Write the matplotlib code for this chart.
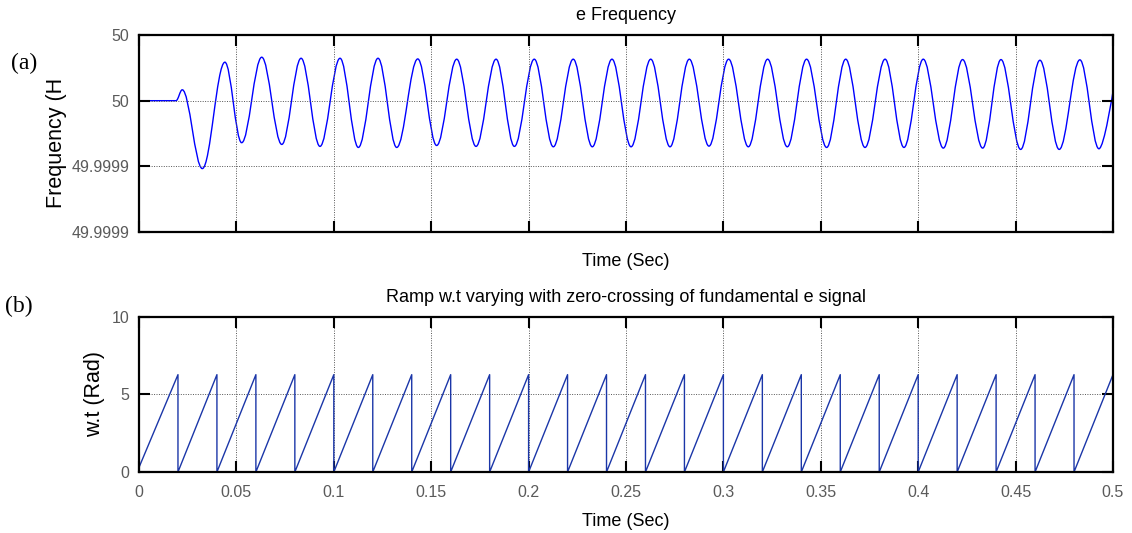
import numpy as np
import matplotlib
matplotlib.use("Agg")
import matplotlib.pyplot as plt
from matplotlib.path import Path
from matplotlib.patches import PathPatch

# ---- data ----
# (a) frequency: turning points of the oscillation, deviation from 50 Hz in micro-Hz
freq_t = [0.0, 0.019, 0.0222, 0.0325, 0.0441, 0.0527, 0.0630, 0.0733, 0.0832, 0.0929,
          0.1032, 0.1126, 0.1227, 0.1323, 0.1431, 0.1528, 0.1631, 0.1730, 0.1833, 0.1927,
          0.2029, 0.2127, 0.2229, 0.2327, 0.2428, 0.2526, 0.2627, 0.2726, 0.2825, 0.2926,
          0.3027, 0.3128, 0.3227, 0.3328, 0.3427, 0.3530, 0.3628, 0.3727, 0.3830, 0.3927,
          0.4026, 0.4129, 0.4228, 0.4331, 0.4425, 0.4526, 0.4625, 0.4724, 0.4830, 0.4928,
          0.5]
freq_dev = [0.0, 0.0, 8.3, -51.7, 29.3, -32.0, 33.1, -33.3, 32.3, -34.8,
            32.3, -35.6, 32.3, -35.6, 31.8, -34.1, 31.6, -34.8, 31.6, -34.8,
            31.6, -35.1, 31.6, -35.1, 31.6, -35.1, 31.6, -35.1, 31.6, -34.6,
            31.6, -35.1, 31.6, -35.1, 31.6, -35.6, 31.6, -35.6, 31.6, -35.6,
            31.6, -36.1, 31.3, -36.1, 31.3, -37.1, 30.8, -37.1, 31.1, -36.6,
            7.0]
freq_ticks = [49.99990, 49.99995, 50.00000, 50.00005]
freq_ticklabels = ["49.9999", "49.9999", "50", "50"]

# (b) ramp w.t: reset instants (zero crossings) and ramp levels in rad
wt_resets = [0.02, 0.04, 0.06, 0.08, 0.10, 0.12, 0.14, 0.16, 0.18, 0.20, 0.22, 0.24,
             0.26, 0.28, 0.30, 0.32, 0.34, 0.36, 0.38, 0.40, 0.42, 0.44, 0.46, 0.48]
wt_start = 0.3
wt_top = 6.28
wt_end = 0.5

x_ticks = [0, 0.05, 0.1, 0.15, 0.2, 0.25, 0.3, 0.35, 0.4, 0.45, 0.5]
x_ticklabels = ["0", "0.05", "0.1", "0.15", "0.2", "0.25", "0.3", "0.35", "0.4", "0.45", "0.5"]

plt.rcParams["font.family"] = ["Liberation Sans", "DejaVu Sans"]


def style_axes(ax):
  for s in ax.spines.values():
    s.set_linewidth(1.6)
  ax.tick_params(direction="in", length=8, width=1.5, top=True, right=True,
                 labelsize=11.5, labelcolor="#5a5a5a")
  ax.tick_params(axis="x", pad=9)
  ax.tick_params(axis="y", pad=7)
  ax.grid(True, linestyle=(0, (1, 1.5)), color="#555555", linewidth=0.7)


fig = plt.figure(figsize=(11.32, 5.33), dpi=100)
ax1 = fig.add_axes([0.1228, 0.5647, 0.8604, 0.3696])
ax2 = fig.add_axes([0.1228, 0.1144, 0.8604, 0.2909])

# ---- (a) frequency curve, smooth segments between turning points ----
fvals = [50 + d * 1e-6 for d in freq_dev]
a = 0.3634
verts = [(freq_t[0], fvals[0])]
codes = [Path.MOVETO]
for i in range(1, len(freq_t)):
  t0, t1 = freq_t[i-1], freq_t[i]
  y0, y1 = fvals[i-1], fvals[i]
  d = t1 - t0
  if i == 1:
    verts.append((t1, y1)); codes.append(Path.LINETO)
    continue
  c2 = (t1, y1) if i == len(freq_t) - 1 else (t1 - a*d, y1)
  verts += [(t0 + a*d, y0), c2, (t1, y1)]
  codes += [Path.CURVE4] * 3
ax1.add_patch(PathPatch(Path(verts, codes), fill=False, edgecolor="#0000ff", linewidth=1.0))

ax1.set_xlim(0, 0.5)
ax1.set_ylim(freq_ticks[0], freq_ticks[-1])
ax1.set_xticks(x_ticks)
ax1.set_xticklabels([])
ax1.set_yticks(freq_ticks)
ax1.set_yticklabels(freq_ticklabels)
style_axes(ax1)
ax1.set_title("e Frequency", fontsize=13, pad=11)
ax1.set_xlabel("Time (Sec)", fontsize=13, labelpad=6)
ax1.set_ylabel("Frequency (H", fontsize=15.5)
ax1.yaxis.set_label_coords(-0.074, 0.45)

# ---- (b) ramp ----
wt_t = [0.0]
wt_y = [wt_start]
for r in wt_resets:
  wt_t += [r, r]
  wt_y += [wt_top, 0.0]
wt_t.append(wt_end)
wt_y.append(wt_top)
ax2.plot(wt_t, wt_y, color="#1b36a8", linewidth=1.0)

ax2.set_xlim(0, 0.5)
ax2.set_ylim(0, 10)
ax2.set_xticks(x_ticks)
ax2.set_xticklabels(x_ticklabels)
ax2.set_yticks([0, 5, 10])
style_axes(ax2)
ax2.set_title("Ramp w.t varying with zero-crossing of fundamental e signal", fontsize=13, pad=11)
ax2.set_xlabel("Time (Sec)", fontsize=13, labelpad=10)
ax2.set_ylabel("w.t (Rad)", fontsize=15.5)
ax2.yaxis.set_label_coords(-0.035, 0.5)

fig.text(0.0097, 0.881, "(a)", family="Liberation Serif", fontsize=17, va="center")
fig.text(0.0044, 0.425, "(b)", family="Liberation Serif", fontsize=17, va="center")

fig.savefig("out.png", dpi=100)
